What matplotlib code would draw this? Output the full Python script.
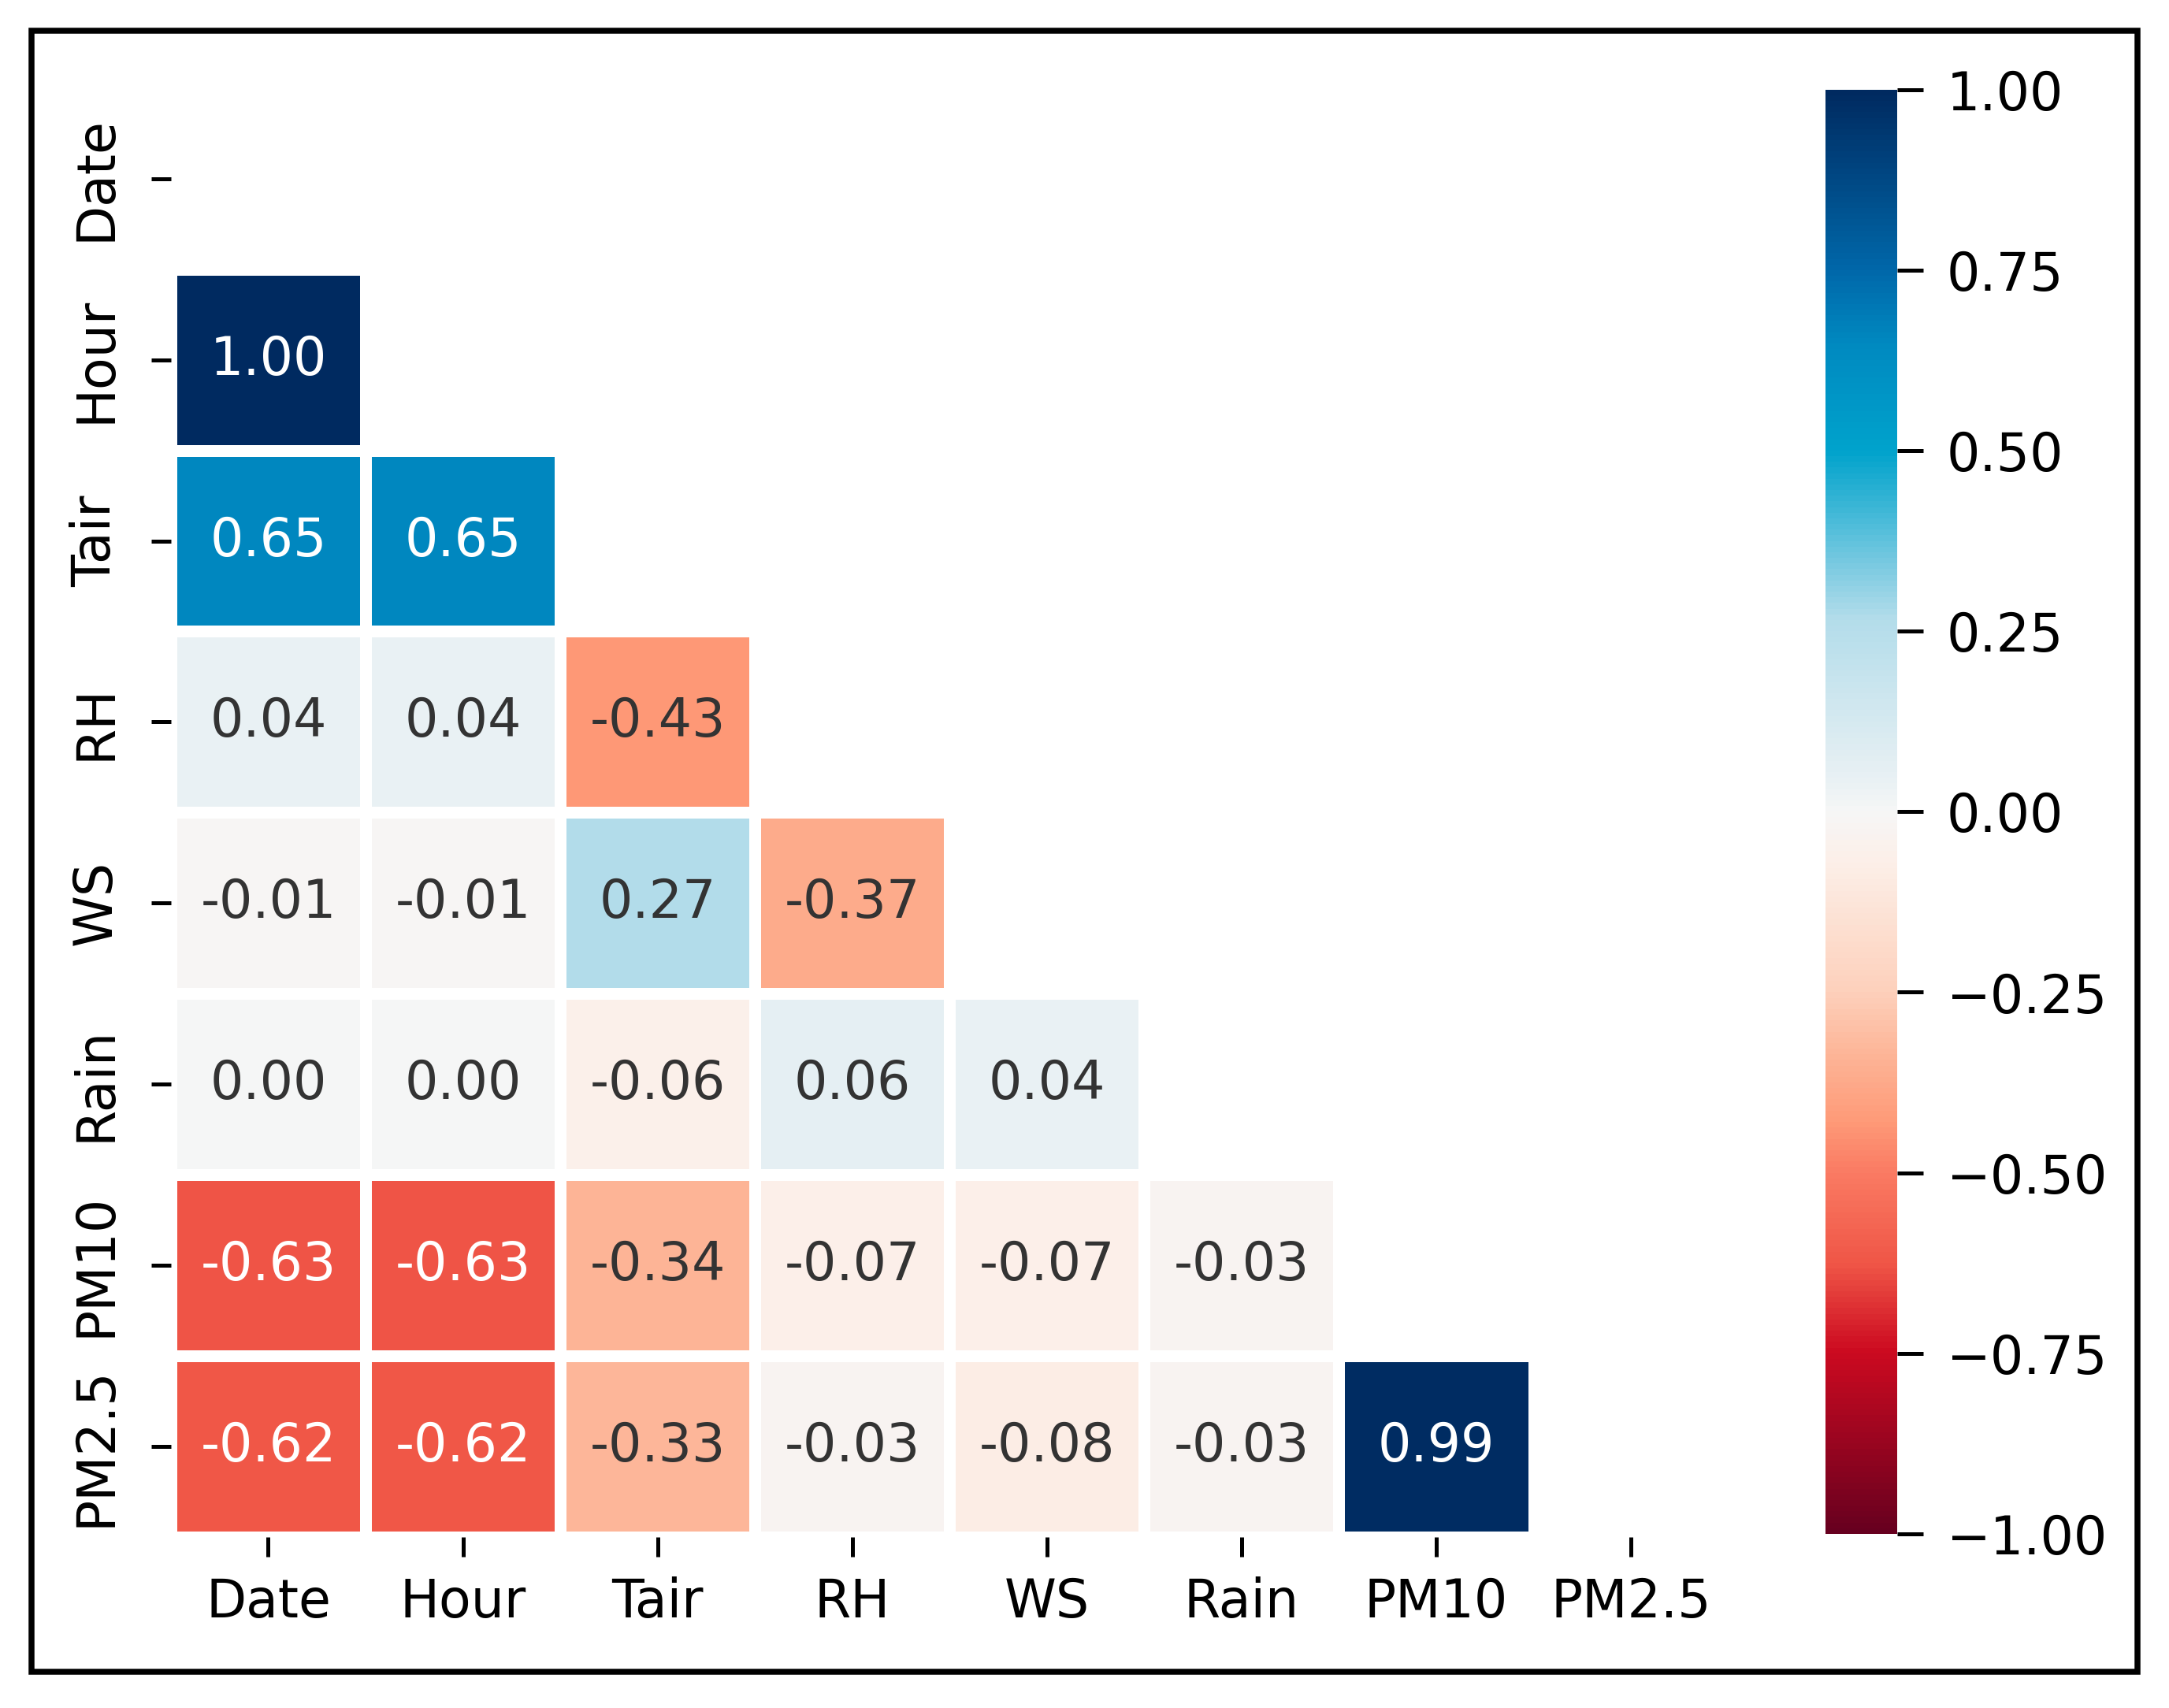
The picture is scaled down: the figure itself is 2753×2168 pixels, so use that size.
import numpy as np
import matplotlib
matplotlib.use("Agg")
import matplotlib.pyplot as plt
from matplotlib.patches import Rectangle
from matplotlib.colors import LinearSegmentedColormap

labels = ["Date", "Hour", "Tair", "RH", "WS", "Rain", "PM10", "PM2.5"]

# lower triangle of the correlation matrix, row by row
row_hour = [1.00]
row_tair = [0.65, 0.65]
row_rh = [0.04, 0.04, -0.43]
row_ws = [-0.01, -0.01, 0.27, -0.37]
row_rain = [0.00, 0.00, -0.06, 0.06, 0.04]
row_pm10 = [-0.63, -0.63, -0.34, -0.07, -0.07, -0.03]
row_pm25 = [-0.62, -0.62, -0.33, -0.03, -0.08, -0.03, 0.99]
rows = [[], row_hour, row_tair, row_rh, row_ws, row_rain, row_pm10, row_pm25]

n = len(labels)
corr = np.full((n, n), np.nan)
for i, r in enumerate(rows):
    for j, v in enumerate(r):
        corr[i, j] = v
masked = np.ma.masked_invalid(corr)

# RdBu as it looks in the (more saturated) picture
stops = [(-1.0, "#67001f"), (-0.75, "#cc0a20"), (-0.63, "#ef5546"), (-0.5, "#fa7b63"),
         (-0.43, "#fe9a78"), (-0.34, "#fdb496"), (-0.25, "#fdd0bb"), (-0.07, "#fcefe8"),
         (0.0, "#f6f6f6"), (0.04, "#eaf1f4"), (0.27, "#b2dcea"), (0.5, "#00a3cc"),
         (0.65, "#0089c0"), (0.75, "#0068aa"), (1.0, "#002a60")]
cmap = LinearSegmentedColormap.from_list("rdbu_pic", [((v + 1) / 2, c) for v, c in stops])
norm = matplotlib.colors.Normalize(vmin=-1, vmax=1)

fs = 16
fig = plt.figure(figsize=(9.177, 7.227), dpi=300)
ax = fig.add_axes([0.0788, 0.1003, 0.718, 0.848])
cax = fig.add_axes([0.8415, 0.102, 0.0333, 0.8455])

mesh = ax.pcolormesh(np.arange(n + 1), np.arange(n + 1), masked, cmap=cmap, norm=norm,
                     edgecolors="white", linewidth=3.5)
ax.set_xlim(0, n)
ax.set_ylim(n, 0)

# annotations, text colour picked by luminance like seaborn
for i in range(n):
    for j in range(n):
        if np.isnan(corr[i, j]):
            continue
        rgb = np.array(cmap(norm(corr[i, j]))[:3])
        lin = np.where(rgb <= 0.03928, rgb / 12.92, ((rgb + 0.055) / 1.055) ** 2.4)
        lum = 0.2126 * lin[0] + 0.7152 * lin[1] + 0.0722 * lin[2]
        tc = ".2" if lum > 0.408 else "white"
        ax.text(j + 0.5, i + 0.5, "%.2f" % corr[i, j], ha="center", va="center",
                color=tc, fontsize=fs)

ax.set_xticks(np.arange(n) + 0.5)
ax.set_xticklabels(labels, fontsize=fs)
ax.set_yticks(np.arange(n) + 0.5)
ax.set_yticklabels(labels, fontsize=fs, rotation=90, va="center")
ax.tick_params(axis="x", length=6, width=1.2, pad=6)
ax.tick_params(axis="y", length=6, width=1.2, pad=9)
for s in ax.spines.values():
    s.set_visible(False)

cb = fig.colorbar(mesh, cax=cax)
cb.outline.set_visible(False)
cb.set_ticks([-1, -0.75, -0.5, -0.25, 0, 0.25, 0.5, 0.75, 1.0])
cb.ax.tick_params(labelsize=fs, length=8, width=1.2, pad=7)
cb.ax.yaxis.set_major_formatter(matplotlib.ticker.FuncFormatter(
    lambda v, p: ("%.2f" % v).replace("-", "\u2212")))

# black frame around the whole figure
fig.patches.append(Rectangle((0.0145, 0.021), 0.971, 0.961, transform=fig.transFigure,
                             fill=False, edgecolor="black", linewidth=1.8))

fig.savefig("out.png", dpi=300)
